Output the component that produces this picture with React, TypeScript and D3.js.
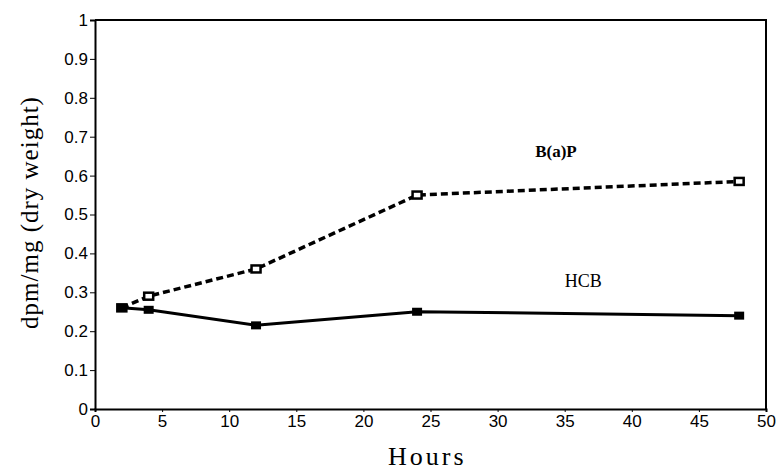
import React, { useEffect, useRef } from 'react';
import * as d3 from 'd3';

// hours sampled
const hours = [2, 4, 12, 24, 48];
// dpm/mg dry weight for each compound
const bapValues = [0.26, 0.29, 0.36, 0.55, 0.585];
const hcbValues = [0.26, 0.255, 0.215, 0.25, 0.24];
const xTicks = [0, 5, 10, 15, 20, 25, 30, 35, 40, 45, 50];
const yTicks = [0, 0.1, 0.2, 0.3, 0.4, 0.5, 0.6, 0.7, 0.8, 0.9, 1];
const yTickLabels = ['0', '0.1', '0.2', '0.3', '0.4', '0.5', '0.6', '0.7', '0.8', '0.9', '1'];

const App = () => {
  const svgRef = useRef<SVGSVGElement>(null);

  useEffect(() => {
    const root = d3.select(svgRef.current);
    root.selectAll('*').remove();

    const width = 777;
    const height = 473;
    const margin = { top: 20, right: 10, bottom: 64, left: 95 };
    const innerW = width - margin.left - margin.right;
    const innerH = height - margin.top - margin.bottom;

    const svg = root.attr('width', width).attr('height', height)
      .append('g')
      .attr('transform', `translate(${margin.left},${margin.top})`);

    const x = d3.scaleLinear().domain([0, 50]).range([0, innerW - 1]);
    const y = d3.scaleLinear().domain([0, 1]).range([innerH, 0]);

    // frame: top and right borders
    svg.append('path')
      .attr('d', `M0,${y(1)}H${x(50)}V${y(0)}`)
      .attr('fill', 'none')
      .attr('stroke', '#000')
      .attr('stroke-width', 2);

    // x axis
    const xAxis = svg.append('g')
      .attr('transform', `translate(0,${innerH})`)
      .call(d3.axisBottom(x).tickValues(xTicks).tickSize(3).tickPadding(3).tickFormat(d3.format('d')));
    xAxis.select('.domain').attr('stroke-width', 2);
    xAxis.selectAll('text')
      .style('font-family', '"Liberation Sans", Arial, sans-serif')
      .style('font-size', '17px')
      .attr('fill', '#000');

    // y axis
    const yAxis = svg.append('g')
      .call(d3.axisLeft(y).tickValues(yTicks).tickSize(5).tickPadding(2)
        .tickFormat((d, i) => yTickLabels[i]));
    yAxis.select('.domain').attr('stroke-width', 2);
    yAxis.selectAll('text')
      .style('font-family', '"Liberation Sans", Arial, sans-serif')
      .style('font-size', '17px')
      .attr('fill', '#000');

    const line = d3.line<number>()
      .x((d, i) => x(hours[i]))
      .y((d) => y(d));

    // B(a)P, dashed
    svg.append('path')
      .datum(bapValues)
      .attr('d', line)
      .attr('fill', 'none')
      .attr('stroke', '#000')
      .attr('stroke-width', 3.5)
      .attr('stroke-dasharray', '7,4');

    // HCB, solid
    svg.append('path')
      .datum(hcbValues)
      .attr('d', line)
      .attr('fill', 'none')
      .attr('stroke', '#000')
      .attr('stroke-width', 3);

    // markers
    svg.selectAll('.bap')
      .data(bapValues)
      .enter()
      .append('rect')
      .attr('x', (d, i) => x(hours[i]) - 4.5)
      .attr('y', (d) => y(d) - 3.5)
      .attr('width', 9)
      .attr('height', 7)
      .attr('fill', '#fff')
      .attr('stroke', '#000')
      .attr('stroke-width', 2.5);

    svg.selectAll('.hcb')
      .data(hcbValues)
      .enter()
      .append('rect')
      .attr('x', (d, i) => x(hours[i]) - 5)
      .attr('y', (d) => y(d) - 4)
      .attr('width', 10)
      .attr('height', 8)
      .attr('fill', '#000');

    // series labels
    svg.append('text')
      .attr('x', x(32.8))
      .attr('y', y(0.648))
      .style('font-family', '"Liberation Serif", "DejaVu Serif", serif')
      .style('font-size', '17px')
      .style('font-weight', 'bold')
      .text('B(a)P');

    svg.append('text')
      .attr('x', x(35))
      .attr('y', y(0.314))
      .style('font-family', '"Liberation Serif", "DejaVu Serif", serif')
      .style('font-size', '18px')
      .text('HCB');

    // axis titles
    svg.append('text')
      .attr('x', 293)
      .attr('y', innerH + 56)
      .style('text-anchor', 'start')
      .style('font-family', '"Liberation Serif", "DejaVu Serif", serif')
      .style('font-size', '26px')
      .style('letter-spacing', '3px')
      .text('Hours');

    svg.append('text')
      .attr('transform', `translate(${-57},${y(0.5) - 2}) rotate(-90)`)
      .style('text-anchor', 'middle')
      .style('font-family', '"Liberation Serif", "DejaVu Serif", serif')
      .style('font-size', '25px')
      .style('letter-spacing', '1px')
      .text('dpm/mg (dry weight)');
  }, []);

  return (
    <div style={{ position: 'absolute', left: 0, top: 0, background: '#fff' }}>
      <svg ref={svgRef}></svg>
    </div>
  );
};

export default App;
